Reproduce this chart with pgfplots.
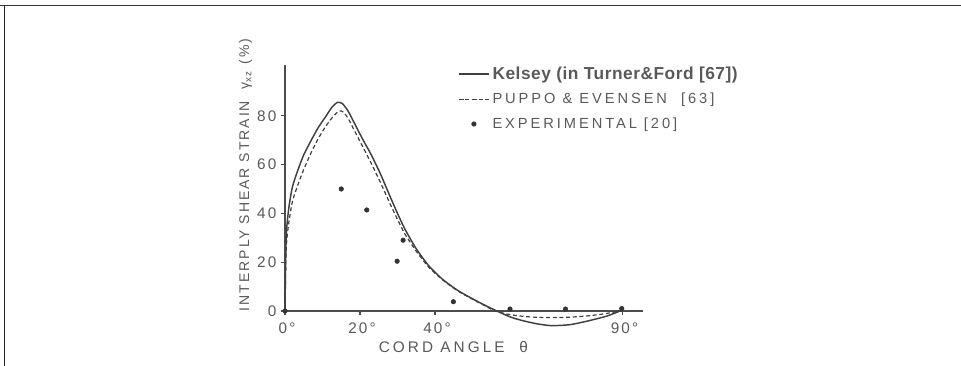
\documentclass[border=0pt]{standalone}
\usepackage{fontspec}
\setmainfont{Liberation Sans}
\newfontfamily\spaced[LetterSpace=14]{Liberation Sans}
\newfontfamily\wider[LetterSpace=20]{Liberation Sans}
\newfontfamily\boldish[LetterSpace=3]{Liberation Sans}
\usepackage{pgfplots}
\pgfplotsset{compat=1.18}
\begin{document}
\begin{tikzpicture}
% page of 961x366 px at 0.75pt per px
\useasboundingbox (0,0) rectangle (720.75pt,274.5pt);
\draw[black!80, line width=1.2pt] (0,270.5pt) -- (720.75pt,270.5pt);
\draw[black!85, line width=1.2pt] (3.4pt,0) -- (3.4pt,270.5pt);
\begin{axis}[
	at={(213.75pt,41.25pt)}, anchor=origin,
	x=2.8125pt, y=1.83pt,
	xmin=0, xmax=95.5, ymin=0, ymax=101,
	clip=false,
	axis x line=bottom, axis y line=left,
	axis line style={-, black!70, line width=0.8pt},
	xtick={0,20,40,90},
	xticklabels={0°,20°,40°,90°},
	ytick={0,20,40,60,80},
	tick style={black!70, line width=0.8pt},
	major tick length=3pt,
	tick align=outside,
	/pgf/number format/assume math mode=true,
	tick label style={font=\fontsize{11.5}{13}\spaced, text=black!65},
	xticklabel style={yshift=-2pt, xshift=1.5pt},
	xlabel={CORD ANGLE\ \ θ},
	xlabel style={font=\fontsize{11.5}{13}\wider, text=black!65, at={(axis description cs:0.47,0)}, anchor=north, yshift=-19pt},
	ylabel={INTERPLY SHEAR STRAIN\ \ γ\textsubscript{xz} (\%)},
	ylabel style={font=\fontsize{10.5}{12}\spaced, text=black!65, at={(axis description cs:-0.11,0.552)}, anchor=center, rotate=0},
	legend style={draw=none, fill=none, at={(axis cs:45,102.5)}, anchor=north west, row sep=5pt,
		nodes={text=black!65}},
	legend cell align=left,
	legend image code/.code={\draw[mark repeat=2,mark phase=2,#1] plot coordinates {(0cm,0cm) (0.4cm,0cm) (0.8cm,0cm)};},
]
% Kelsey
\addplot[black!75, line width=1.1pt, smooth, tension=0.4] coordinates {
	(0,0) (0.3,30) (1,42) (2,51) (3.5,58) (5,64) (7,70) (9,75.5) (11,80) (12.5,83.5) (14,85.5)
	(15.3,85) (16.8,82) (18.5,77) (20.5,71) (23,64) (25.5,56) (28,47) (30,40) (32,33.5)
	(35,25.5) (38.3,18.6) (42,13) (46,8.5) (50,5) (53.5,2.2) (56.5,0) (60,-2.4) (63,-3.8)
	(67,-5.2) (71,-6) (76,-5.6) (81,-4) (86,-2) (90,0.4)
};
\addlegendentry{\fontsize{13}{14}\boldish\bfseries Kelsey (in Turner\&Ford [67])}
% Puppo & Evensen
\addplot[black!75, line width=0.9pt, dash pattern=on 3pt off 2pt, smooth, tension=0.4] coordinates {
	(0,0) (0.3,25) (1,36) (2,45) (3.5,52) (5,58) (7,65) (9,71) (11,76) (13,80) (14.5,82)
	(15.6,81.5) (17,78.5) (18.5,74) (20.5,68) (23,60.5) (25.5,52.5) (28,44) (30,37.5) (32,31.5)
	(35,24.5) (38.3,18) (42,12.8) (46,8.3) (50,4.8) (53.5,2) (56,0) (60,-1.5) (65,-2.4)
	(70,-2.7) (75,-2.6) (80,-2.1) (85,-1.2) (90,0.2)
};
\addlegendentry{\fontsize{11}{12}\wider PUPPO \& EVENSEN\ \ [63]}
% experimental
\addplot[only marks, mark=*, mark size=1.7pt, black!80] coordinates {
	(0,0) (15,50) (21.8,41.4) (29.9,20.4) (31.5,29) (44.9,3.8) (60,0.8) (74.8,0.8) (89.8,1)
};
\addlegendentry{\fontsize{11}{12}\wider EXPERIMENTAL [20]}
\end{axis}
\end{tikzpicture}
\end{document}
